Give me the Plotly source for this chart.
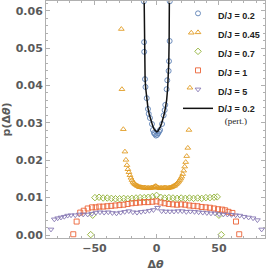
import plotly.graph_objects as go

# ---- data ----
blue_x = [-10.3, -10.1, -10.0, -9.4, -9.0, -8.0, -7.0, -6.4, -5.4, -3.8, -3.0, -2.2, -1.4, -0.6,
          0.4, 1.2, 2.0, 2.7, 4.3, 5.6, 6.4, 6.9, 8.0, 8.5, 9.6, 9.9, 10.4, 10.5]
blue_y = [0.0625, 0.0516, 0.0490, 0.0417, 0.0396, 0.0366, 0.0337, 0.0324, 0.0313, 0.0297, 0.0281,
          0.0273, 0.0270, 0.0266, 0.0268, 0.0272, 0.0277, 0.0281, 0.0297, 0.0320, 0.0334, 0.0348,
          0.0390, 0.0414, 0.0439, 0.0465, 0.0519, 0.0625]

pert_x = [-10.3, -10.15, -10.0, -9.7, -9.3, -8.8, -8.0, -7.0, -6.0, -5.0, -4.0, -3.0, -2.0, -1.0, 0.0,
          1.0, 2.0, 3.0, 4.0, 5.0, 6.0, 7.0, 8.0, 8.8, 9.3, 9.7, 10.0, 10.15, 10.3]
pert_y = [0.0700, 0.0630, 0.0517, 0.0460, 0.0417, 0.0392, 0.0361, 0.0340, 0.0323, 0.0310, 0.0299,
          0.0290, 0.0283, 0.0278, 0.0276, 0.0278, 0.0283, 0.0290, 0.0299, 0.0310, 0.0323, 0.0340,
          0.0361, 0.0392, 0.0417, 0.0460, 0.0517, 0.0630, 0.0700]

orange_x = [-28.4, -27.9, -26.8, -25.5, -24.7, -23.9, -23.1, -22.3, -21.5, -20.7, -19.9, -19.1, -18.3,
            -17.5, -16.7, -15.9, -15.1, -14.3, -13.5, -12.7, -11.9, -11.1, -10.3, -9.5, -8.7, -7.9,
            -7.1, -6.3, -5.5, -4.7, -3.9, -3.1, -2.3, -1.5, -0.7, 0.1, 0.9, 1.7, 2.5, 3.3, 4.1, 4.9,
            5.7, 6.5, 7.3, 8.1, 8.9, 9.7, 10.5, 11.3, 12.1, 12.9, 13.7, 14.5, 15.3, 16.1, 16.9, 17.7,
            18.5, 19.3, 20.1, 20.9, 21.7, 22.5, 23.3, 24.1, 25.0, 25.9, 26.7, 27.8]
orange_y = [0.0551, 0.0390, 0.0283, 0.0223, 0.0201, 0.0187, 0.0176, 0.0168, 0.0160, 0.0153, 0.0147,
            0.0142, 0.0139, 0.0136, 0.0134, 0.0132, 0.0131, 0.0129, 0.0128, 0.0128, 0.0127, 0.0127,
            0.0126, 0.0127, 0.0126, 0.0125, 0.0126, 0.0126, 0.0125, 0.0126, 0.0127, 0.0126, 0.0128,
            0.0130, 0.0131, 0.0129, 0.0127, 0.0126, 0.0125, 0.0126, 0.0126, 0.0125, 0.0126, 0.0127,
            0.0126, 0.0126, 0.0125, 0.0126, 0.0127, 0.0127, 0.0128, 0.0130, 0.0131, 0.0132, 0.0135,
            0.0137, 0.0140, 0.0143, 0.0147, 0.0151, 0.0156, 0.0163, 0.0172, 0.0183, 0.0195, 0.0211,
            0.0233, 0.0281, 0.0394, 0.0541]

green_x = [-53.0, -51.4, -49.6, -46.3, -43.0, -39.7, -36.4, -33.1, -29.8, -26.5, -23.2, -19.9, -16.6,
           -13.3, -10.0, -6.7, -3.4, -0.1, 3.2, 6.5, 9.8, 13.1, 16.4, 19.7, 23.0, 26.3, 29.6, 32.9,
           36.2, 39.5, 42.8, 46.1, 48.6, 50.0, 51.9]
green_y = [0.0001, 0.0053, 0.0100, 0.0101, 0.0099, 0.0099, 0.0098, 0.0097, 0.0097, 0.0098, 0.0097,
           0.0098, 0.0099, 0.0100, 0.0100, 0.0101, 0.0103, 0.0106, 0.0101, 0.0099, 0.0100, 0.0099,
           0.0098, 0.0099, 0.0098, 0.0099, 0.0098, 0.0099, 0.0098, 0.0100, 0.0100, 0.0101, 0.0102,
           0.0053, 0.0001]

red_x = [-67.0, -64.3, -61.4, -58.6, -55.4, -52.0, -49.0, -46.1, -42.9, -39.7, -36.5, -33.2, -29.9,
         -26.6, -23.3, -20.0, -16.7, -13.4, -10.1, -6.8, -3.5, -0.2, 3.1, 6.4, 9.7, 13.0, 16.3, 19.6,
         22.9, 26.2, 29.5, 32.8, 36.1, 39.4, 42.7, 46.0, 49.3, 52.6, 55.0, 57.7, 60.8, 63.7, 66.3]
red_y = [0.0002, 0.0036, 0.0060, 0.0065, 0.0071, 0.0074, 0.0074, 0.0076, 0.0076, 0.0077, 0.0078,
         0.0079, 0.0080, 0.0081, 0.0083, 0.0085, 0.0086, 0.0087, 0.0088, 0.0088, 0.0089, 0.0090,
         0.0087, 0.0085, 0.0083, 0.0082, 0.0081, 0.0082, 0.0081, 0.0079, 0.0078, 0.0077, 0.0075,
         0.0074, 0.0073, 0.0071, 0.0069, 0.0068, 0.0066, 0.0062, 0.0059, 0.0036, 0.0002]

purple_x = [-84.9, -82.2, -79.5, -76.9, -74.2, -71.5, -68.8, -65.4, -62.2, -59.0, -55.4, -52.1, -48.8,
            -45.5, -42.2, -38.9, -35.6, -32.3, -29.0, -25.7, -22.4, -19.1, -15.8, -12.5, -9.2, -5.9,
            -2.6, 0.7, 4.0, 7.3, 10.6, 13.9, 17.2, 20.5, 23.8, 27.1, 30.4, 33.7, 37.0, 40.3, 43.6,
            46.9, 50.2, 53.5, 56.8, 60.1, 63.4, 66.7, 70.2, 73.8, 77.4, 80.9, 84.3]
purple_y = [0.0015, 0.0042, 0.0045, 0.0047, 0.0049, 0.0052, 0.0053, 0.0053, 0.0055, 0.0055, 0.0055,
            0.0057, 0.0060, 0.0061, 0.0060, 0.0061, 0.0059, 0.0058, 0.0060, 0.0062, 0.0064, 0.0061,
            0.0060, 0.0062, 0.0063, 0.0065, 0.0067, 0.0073, 0.0064, 0.0063, 0.0063, 0.0063, 0.0064,
            0.0064, 0.0062, 0.0063, 0.0062, 0.0061, 0.0060, 0.0059, 0.0058, 0.0058, 0.0056, 0.0055,
            0.0055, 0.0054, 0.0053, 0.0052, 0.0049, 0.0047, 0.0045, 0.0040, 0.0015]

x_ticks = [-50, 0, 50]
y_ticks = [0.00, 0.01, 0.02, 0.03, 0.04, 0.05, 0.06]

# ---- styling ----
C_BLUE, C_ORANGE, C_GREEN, C_RED, C_PURPLE = "#5E81B5", "#E19C24", "#8FB032", "#EB6235", "#8778B3"
FRAME = "#b0b0b0"
TICKFONT = dict(family="DejaVu Sans", size=11, color="#5a5a5a", weight="bold")


def mk(x, y, name, color, symbol):
    return go.Scatter(x=x, y=y, mode="markers", name=name,
                      marker=dict(symbol=symbol, size=5, color=color, line=dict(width=0.9, color=color)))


fig = go.Figure()
fig.add_trace(mk(blue_x, blue_y, "D/J = 0.2", C_BLUE, "circle-open"))
fig.add_trace(mk(orange_x, orange_y, "D/J = 0.45", C_ORANGE, "triangle-up-open"))
fig.add_trace(mk(green_x, green_y, "D/J = 0.7", C_GREEN, "diamond-open"))
fig.add_trace(mk(red_x, red_y, "D/J = 1", C_RED, "square-open"))
fig.add_trace(mk(purple_x, purple_y, "D/J = 5", C_PURPLE, "triangle-down-open"))
fig.add_trace(go.Scatter(x=pert_x, y=pert_y, mode="lines", line=dict(color="#111111", width=1.5),
                         name="D/J = 0.2<br><span style='font-family:Liberation Serif;font-weight:normal'>"
                              "&nbsp;&nbsp;&nbsp;(pert.)</span>"))

fig.update_layout(
    width=266, height=273,
    margin=dict(l=46, r=1, t=1, b=35),
    paper_bgcolor="white", plot_bgcolor="white",
    showlegend=True,
    legend=dict(x=1, xanchor="right", y=1, yanchor="top", bgcolor="rgba(0,0,0,0)",
                font=dict(family="Liberation Sans, Arial", size=9, color="#222222", weight="bold"),
                valign="top", itemwidth=30, tracegroupgap=0),
)
fig.update_xaxes(
    range=[-88.9, 87.0], tickvals=x_ticks, ticks="inside", ticklen=4, tickcolor=FRAME,
    showline=True, linecolor=FRAME, linewidth=1, mirror="ticks", showgrid=False, zeroline=False,
    tickfont=TICKFONT,
    minor=dict(dtick=10, ticks="inside", ticklen=2, tickcolor=FRAME),
    title=dict(text="<b>Δ<i>θ</i></b>", font=dict(family="DejaVu Sans", size=11, color="#5a5a5a"), standoff=6),
)
fig.update_yaxes(
    range=[-0.0008, 0.0626], tickvals=y_ticks, tickformat=".2f", ticks="inside", ticklen=4,
    tickcolor=FRAME, showline=True, linecolor=FRAME, linewidth=1, mirror="ticks", showgrid=False,
    zeroline=False, tickfont=TICKFONT,
    minor=dict(dtick=0.002, ticks="inside", ticklen=2, tickcolor=FRAME),
    title=dict(text="<b>p(Δ<i>θ</i>)</b>", font=dict(family="DejaVu Sans", size=11, color="#5a5a5a"), standoff=2),
)

fig.write_html("out.html", config={"displayModeBar": False},
               post_script="document.body.style.margin='0';document.body.style.overflow='hidden';")
